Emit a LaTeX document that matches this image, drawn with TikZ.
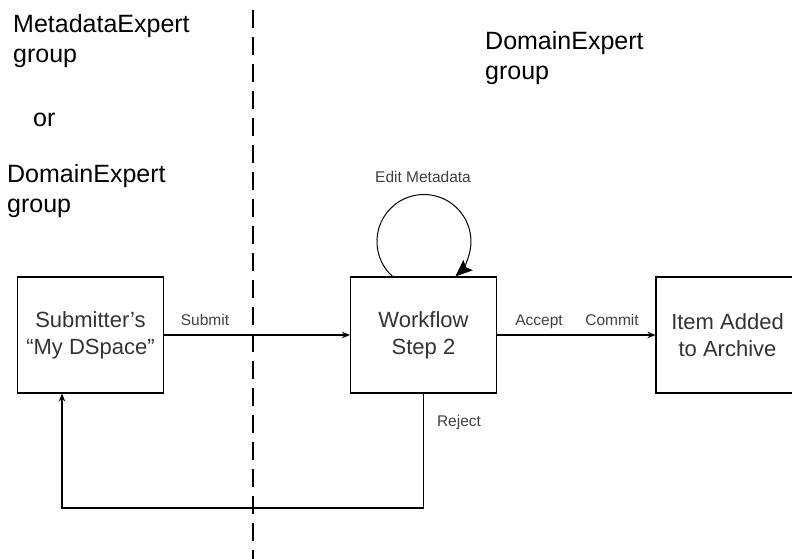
\documentclass[tikz,border=0pt]{standalone}
\usepackage{fontspec}
\setmainfont{Liberation Sans}
\usepackage{tikz}
\usetikzlibrary{arrows.meta}
\usetikzlibrary{positioning}

\tikzset{
    stage/.style={draw, line width=1.1pt, minimum width=146pt, minimum height=116pt,
        inner sep=0pt, align=center, text=black!80, font=\fontsize{22}{27}\selectfont},
    flowlbl/.style={anchor=base, inner sep=0pt, text=black!75, font=\fontsize{15.5}{18}\selectfont},
    % multi-line: base anchor sits on the last line
    grouplbl/.style={anchor=base west, inner sep=0pt, align=left, font=\fontsize{25}{30}\selectfont},
    flow/.style={line width=1.1pt, -{Stealth[length=8pt,width=6.5pt]}}
}

\begin{document}
\begin{tikzpicture}
    [x=1pt,y=1pt]
    \useasboundingbox (0,0) rectangle (792,559);
    % swimlane border
    \draw [line width=1.3pt, dash pattern=on 18pt off 9pt] (253,549) -- (253,0);
    % who does what
    \node[grouplbl] (meta) at (13,496) {MetadataExpert\\group};
    \node[grouplbl] (or) at (33,432) {or};
    \node[grouplbl] (domleft) at (7,346) {DomainExpert\\group};
    \node[grouplbl] (domright) at (485,479) {DomainExpert\\group};
    % the three stages
    \node[stage] (sub) at (90.5,224) {Submitter's\\``My DSpace''};
    \node[stage] (wf) at (423.5,224) {Workflow\\Step 2};
    \node[stage, minimum width=143pt] (item) at (727.5,224) {Item Added\\to Archive};
    % transitions
    \draw [flow] (sub) -- (wf);
    \draw [flow] (wf) -- (item);
    \draw [line width=1pt, -{Stealth[length=17pt,width=14pt,inset=3pt]}] ([xshift=-31pt]wf.north)
        arc[start angle=228, end angle=-48, radius=47pt];
    \coordinate (back) at (62,51);
    \draw [flow] (wf.south) |- (back) -- (back |- sub.south);
    \node[flowlbl] (submit) at (205,233) {Submit};
    \node[flowlbl] (accept) at (539,233) {Accept};
    \node[flowlbl] (commit) at (612,233) {Commit};
    \node[flowlbl] (reject) at (459,132) {Reject};
    \node[flowlbl] (edit) at (423,376) {Edit Metadata};
\end{tikzpicture}
\end{document}
